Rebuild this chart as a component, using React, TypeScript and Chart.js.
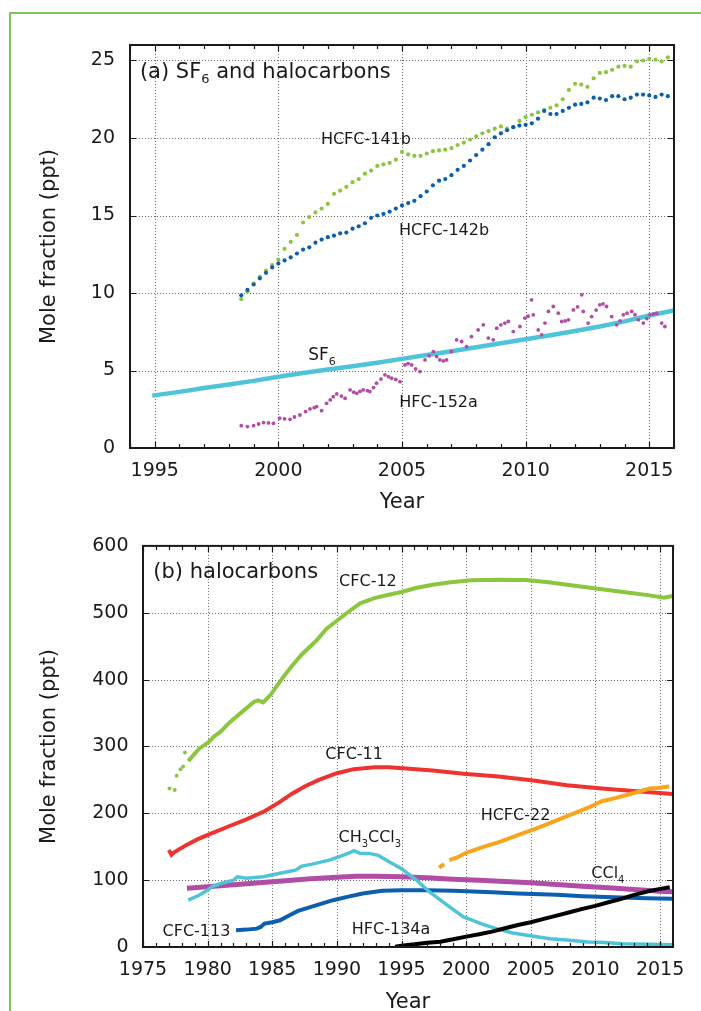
import React, { useEffect, useRef } from "react";
import { Chart, registerables } from "chart.js";

Chart.register(...registerables);

const FONT = "'DejaVu Sans', 'Liberation Sans', sans-serif";
const INK = "#1a1a1a";
const GRID = "#6a6a6a";
const FRAME_GREEN = "#7fc45c";

const GREEN = "#8cc63f";
const BLUE = "#0b5fae";
const CYAN = "#4fc4d9";
const MAGENTA = "#b24da6";
const RED = "#ee3431";
const ORANGE = "#f8a51d";
const BLACK = "#000000";

// ---------- Panel (a): SF6 and halocarbons ----------
const A_YEAR_TICKS = [1994, 1995, 1996, 1997, 1998, 1999, 2000, 2001, 2002, 2003, 2004, 2005, 2006, 2007, 2008, 2009, 2010, 2011, 2012, 2013, 2014, 2015, 2016];
const A_YEAR_LABELS = [1995, 2000, 2005, 2010, 2015];
const A_VALUE_TICKS = [0, 5, 10, 15, 20, 25];
const A_VALUE_GRID = [5, 10, 15, 20, 25];

// quarterly samples starting 1998.5
const HCFC141B_START = 1998.5;
const HCFC141B = [9.6, 10.1, 10.6, 11.05, 11.45, 11.8, 12.15, 12.85, 13.3, 13.75, 14.55, 14.9, 15.2, 15.45, 15.75, 16.4, 16.6, 16.85, 17.15, 17.35, 17.7, 17.9, 18.2, 18.3, 18.4, 18.6, 19.1, 18.95, 18.85, 18.85, 19.0, 19.15, 19.2, 19.25, 19.35, 19.55, 19.7, 19.9, 20.1, 20.3, 20.45, 20.6, 20.75, 20.6, 20.7, 21.1, 21.35, 21.5, 21.65, 21.8, 21.95, 22.1, 22.5, 23.1, 23.5, 23.45, 23.3, 23.85, 24.2, 24.25, 24.4, 24.6, 24.65, 24.6, 24.95, 25.0, 25.1, 25.05, 24.95, 25.2];

const HCFC142B_START = 1998.5;
const HCFC142B = [9.85, 10.2, 10.55, 10.95, 11.3, 11.65, 11.9, 12.1, 12.3, 12.55, 12.8, 12.95, 13.25, 13.45, 13.6, 13.7, 13.85, 13.9, 14.15, 14.3, 14.5, 14.85, 15.0, 15.1, 15.25, 15.45, 15.65, 15.8, 15.95, 16.25, 16.55, 16.95, 17.25, 17.35, 17.6, 17.95, 18.2, 18.55, 18.9, 19.25, 19.6, 20.05, 20.3, 20.5, 20.7, 20.8, 20.85, 20.95, 21.25, 21.75, 21.55, 21.55, 21.75, 21.95, 22.15, 22.2, 22.3, 22.6, 22.55, 22.45, 22.7, 22.7, 22.5, 22.6, 22.8, 22.8, 22.75, 22.65, 22.8, 22.7];

const SF6_YEARS = [1994.9, 1996, 1997, 1998, 1999, 2000, 2001, 2002, 2003, 2004, 2005, 2006, 2007, 2008, 2009, 2010, 2011, 2012, 2013, 2014, 2015, 2016];
const SF6 = [3.38, 3.62, 3.87, 4.1, 4.33, 4.6, 4.84, 5.06, 5.28, 5.5, 5.75, 6.0, 6.24, 6.5, 6.76, 7.02, 7.28, 7.55, 7.84, 8.17, 8.55, 8.88];

const HFC152A_YEARS = [1998.5, 1998.75, 1999.0, 1999.2, 1999.4, 1999.6, 1999.8, 2000.05, 2000.25, 2000.47, 2000.65, 2000.87, 2001.1, 2001.28, 2001.45, 2001.55, 2001.75, 2001.95, 2002.1, 2002.22, 2002.36, 2002.55, 2002.7, 2002.9, 2003.05, 2003.17, 2003.3, 2003.43, 2003.6, 2003.7, 2003.85, 2003.97, 2004.15, 2004.31, 2004.45, 2004.58, 2004.75, 2004.92, 2005.12, 2005.25, 2005.39, 2005.55, 2005.73, 2005.93, 2006.1, 2006.27, 2006.4, 2006.53, 2006.67, 2006.8, 2007.0, 2007.21, 2007.41, 2007.61, 2007.81, 2008.08, 2008.29, 2008.49, 2008.69, 2008.83, 2009.0, 2009.16, 2009.3, 2009.5, 2009.77, 2009.97, 2010.1, 2010.24, 2010.31, 2010.51, 2010.65, 2010.78, 2010.92, 2011.12, 2011.32, 2011.46, 2011.6, 2011.73, 2011.93, 2012.1, 2012.27, 2012.33, 2012.53, 2012.67, 2012.85, 2013.0, 2013.13, 2013.27, 2013.48, 2013.68, 2013.82, 2013.95, 2014.1, 2014.29, 2014.42, 2014.56, 2014.76, 2014.9, 2015.03, 2015.17, 2015.3, 2015.5, 2015.63];
const HFC152A = [1.44, 1.38, 1.44, 1.55, 1.64, 1.62, 1.59, 1.92, 1.88, 1.85, 2.0, 2.13, 2.35, 2.52, 2.6, 2.67, 2.41, 2.88, 3.1, 3.31, 3.49, 3.35, 3.21, 3.75, 3.6, 3.53, 3.65, 3.75, 3.7, 3.64, 3.9, 4.18, 4.45, 4.72, 4.6, 4.5, 4.42, 4.28, 5.36, 5.45, 5.36, 5.1, 4.93, 5.68, 5.95, 6.22, 5.9, 5.68, 5.62, 5.68, 6.22, 6.98, 6.87, 6.54, 7.19, 7.62, 7.95, 7.09, 6.98, 7.73, 7.95, 8.06, 8.16, 7.51, 7.84, 8.38, 8.5, 9.56, 8.59, 7.62, 7.3, 8.06, 8.81, 9.13, 8.7, 8.16, 8.2, 8.27, 8.91, 9.1, 9.88, 8.81, 8.06, 8.48, 8.9, 9.24, 9.3, 9.13, 8.48, 7.95, 8.2, 8.59, 8.7, 8.81, 8.6, 8.27, 8.06, 8.35, 8.59, 8.65, 8.7, 8.06, 7.84];

// ---------- Panel (b): halocarbons ----------
const B_YEAR_TICKS = [1975, 1976, 1977, 1978, 1979, 1980, 1981, 1982, 1983, 1984, 1985, 1986, 1987, 1988, 1989, 1990, 1991, 1992, 1993, 1994, 1995, 1996, 1997, 1998, 1999, 2000, 2001, 2002, 2003, 2004, 2005, 2006, 2007, 2008, 2009, 2010, 2011, 2012, 2013, 2014, 2015, 2016];
const B_YEAR_LABELS = [1975, 1980, 1985, 1990, 1995, 2000, 2005, 2010, 2015];
const B_YEAR_GRID = [1980, 1985, 1990, 1995, 2000, 2005, 2010, 2015];
const B_VALUE_TICKS = [0, 100, 200, 300, 400, 500, 600];
const B_VALUE_GRID = [100, 200, 300, 400, 500];

const CFC12_YEARS = [1977.05, 1977.45, 1977.6, 1977.9, 1978.1, 1978.25, 1978.5, 1979.3, 1980.1, 1980.5, 1981.0, 1981.7, 1982.8, 1983.6, 1983.9, 1984.3, 1984.9, 1985.7, 1986.5, 1987.3, 1988.4, 1989.2, 1990.0, 1991.0, 1991.8, 1992.9, 1994.0, 1995.0, 1996.1, 1997.4, 1998.8, 2000.4, 2002.5, 2004.6, 2006.2, 2008.4, 2010.5, 2012.6, 2014.2, 2015.3, 2015.95];
const CFC12 = [237, 235, 256, 266, 270, 291, 278, 296, 307, 315, 322, 336, 354, 367, 369, 366, 378, 400, 420, 438, 458, 476, 488, 503, 514, 522, 527, 531, 537, 542, 545.5, 548.5, 549.5, 549, 546, 540.5, 535, 530, 526, 522.5, 525];
const CFC12_SPARSE_BEFORE = 1978.45;

const CFC11_YEARS = [1977.0, 1977.2, 1977.35, 1978.3, 1979.2, 1980.3, 1981.7, 1983.0, 1984.4, 1985.5, 1986.5, 1987.5, 1988.6, 1990.0, 1991.3, 1992.9, 1994.0, 1995.6, 1997.4, 1999.8, 2002.5, 2005.2, 2007.8, 2010.5, 2013.2, 2016.0];
const CFC11 = [145, 138, 141, 152, 161, 170, 181, 191, 203, 216, 229, 240, 250, 260, 266, 269, 269, 266.5, 264, 259, 255, 249, 242, 237, 233, 229];

const CH3CCL3_YEARS = [1978.5, 1979.3, 1980.0, 1980.3, 1981.0, 1982.0, 1982.3, 1983.0, 1984.3, 1985.5, 1986.8, 1987.3, 1988.1, 1989.4, 1990.3, 1991.0, 1991.3, 1991.8, 1992.5, 1993.2, 1994.0, 1995.0, 1996.1, 1997.2, 1998.5, 1999.8, 2001.4, 2002.6, 2003.6, 2005.2, 2006.5, 2007.8, 2009.4, 2010.4, 2012.1, 2014.2, 2016.0];
const CH3CCL3 = [70, 77, 85, 90, 95, 100, 105, 103, 105, 110, 115, 121, 124, 130, 136, 141, 144, 140, 140, 137, 128, 117, 101, 82, 63, 45, 33, 26, 21, 16, 12.5, 10.5, 7.5, 7, 5, 4, 3.5];

const CCL4_YEARS = [1978.4, 1980, 1982, 1984, 1986, 1988, 1990, 1991.5, 1993, 1995, 1997, 1999, 2001, 2003, 2005, 2007, 2009, 2011, 2013, 2015, 2016];
const CCL4 = [88, 90, 93, 96, 99, 102, 104.5, 106, 106, 105, 103.5, 101.5, 100, 98, 96, 93.5, 91, 88.5, 86, 83.5, 82.5];

const CFC113_YEARS = [1982.2, 1983.0, 1983.8, 1984.1, 1984.4, 1985.0, 1985.6, 1986.3, 1987.0, 1988.5, 1989.7, 1990.8, 1992.0, 1993.5, 1995.0, 1997.0, 1999.0, 2002.0, 2004.0, 2007.0, 2009.0, 2012.0, 2014.0, 2016.0];
const CFC113 = [25, 26, 27.5, 30, 35, 37, 40, 47, 54, 63, 70, 75, 80, 84, 85, 85, 84, 82, 80, 78, 76, 74, 73, 72];

const HCFC22_YEARS = [1997.9, 1998.3, 1998.5, 1998.7, 1999.3, 2000.0, 2001.4, 2002.7, 2004.1, 2005.4, 2006.8, 2008.1, 2009.4, 2010.5, 2011.6, 2012.9, 2014.2, 2014.8, 2015.7];
const HCFC22 = [119, 124, null, 130, 134, 141, 150, 158, 168, 177, 188, 198, 208, 218, 223, 230, 237, 238, 240];

const HFC134A_YEARS = [1994.5, 1995, 1996, 1997, 1998, 1999, 2000, 2001, 2002, 2003, 2004, 2005, 2006, 2007, 2008, 2009, 2010, 2011, 2012, 2013, 2014, 2015, 2015.75];
const HFC134A = [0.5, 2, 4, 6.5, 8, 11.5, 15.5, 19, 23, 28, 33, 37, 42, 47, 52, 57, 61.5, 67, 72, 78, 83, 87, 89.5];

// ---------- helpers ----------
const zip = (xs: number[], ys: (number | null)[]) => xs.map((x, i) => ({ x, y: ys[i] }));
const quarterly = (start: number, ys: number[]) => ys.map((y, i) => ({ x: start + i * 0.25, y }));

const dots = (data: any[], color: string, r = 2) => ({
  data,
  showLine: false,
  pointRadius: r,
  pointBorderWidth: 0,
  pointBackgroundColor: color,
  pointBorderColor: color,
});

const line = (data: any[], color: string, width: number) => ({
  data,
  showLine: true,
  borderColor: color,
  borderWidth: width,
  pointRadius: 0,
  tension: 0,
  spanGaps: false,
});

type Part = { t: string; sub?: boolean };
type Tag = { x: number; y: number; size: number; parts: Part[] };

type PanelSpec = {
  height: number;
  padTop: number;
  padRight: number;
  xMin: number;
  xMax: number;
  yMin: number;
  yMax: number;
  xTicks: number[];
  xLabels: number[];
  xGrid: number[];
  yTicks: number[];
  yGrid: number[];
  yAxisWidth: number;
  xAxisHeight: number;
  yTickPad: number;
  xTickPad: number;
  xTitlePad: number;
  yTitlePad: number;
  tags: Tag[];
  datasets: any[];
};

// dotted grid underneath, inward tick marks and a solid box on top
function makeFrame(spec: PanelSpec) {
  return {
    id: "frame",
    beforeDatasetsDraw(chart: any) {
      const { ctx, chartArea: a } = chart;
      const sx = chart.scales.x;
      const sy = chart.scales.y;
      ctx.save();
      ctx.strokeStyle = GRID;
      ctx.lineWidth = 1;
      ctx.setLineDash([1, 2]);
      ctx.beginPath();
      for (const v of spec.xGrid) {
        const px = Math.round(sx.getPixelForValue(v)) + 0.5;
        ctx.moveTo(px, a.top);
        ctx.lineTo(px, a.bottom);
      }
      for (const v of spec.yGrid) {
        const py = Math.round(sy.getPixelForValue(v)) + 0.5;
        ctx.moveTo(a.left, py);
        ctx.lineTo(a.right, py);
      }
      ctx.stroke();
      ctx.restore();
    },
    afterDatasetsDraw(chart: any) {
      const { ctx, chartArea: a } = chart;
      const sx = chart.scales.x;
      const sy = chart.scales.y;
      ctx.save();
      ctx.setLineDash([]);
      ctx.strokeStyle = INK;
      ctx.lineWidth = 1.2;
      ctx.beginPath();
      for (const v of spec.xTicks) {
        const len = spec.xLabels.includes(v) ? 6 : 4;
        const px = Math.round(sx.getPixelForValue(v)) + 0.5;
        ctx.moveTo(px, a.top);
        ctx.lineTo(px, a.top + len);
        ctx.moveTo(px, a.bottom);
        ctx.lineTo(px, a.bottom - len);
      }
      for (const v of spec.yGrid) {
        const py = Math.round(sy.getPixelForValue(v)) + 0.5;
        ctx.moveTo(a.left, py);
        ctx.lineTo(a.left + 6, py);
        ctx.moveTo(a.right, py);
        ctx.lineTo(a.right - 6, py);
      }
      ctx.stroke();
      ctx.lineWidth = 2;
      ctx.strokeRect(a.left, a.top, a.right - a.left, a.bottom - a.top);
      ctx.restore();
    },
  };
}

// series names and panel headings, placed in data coordinates
function makeTags(spec: PanelSpec) {
  return {
    id: "tags",
    afterDatasetsDraw(chart: any) {
      const { ctx } = chart;
      const sx = chart.scales.x;
      const sy = chart.scales.y;
      ctx.save();
      ctx.fillStyle = INK;
      ctx.textAlign = "left";
      ctx.textBaseline = "alphabetic";
      for (const tag of spec.tags) {
        let px = sx.getPixelForValue(tag.x);
        const py = sy.getPixelForValue(tag.y);
        const subSize = Math.round(tag.size * 0.62);
        for (const part of tag.parts) {
          ctx.font = `${part.sub ? subSize : tag.size}px ${FONT}`;
          ctx.fillText(part.t, px, py + (part.sub ? 5 : 0));
          px += ctx.measureText(part.t).width;
        }
      }
      ctx.restore();
    },
  };
}

function buildConfig(spec: PanelSpec): any {
  return {
    type: "scatter",
    data: { datasets: spec.datasets },
    options: {
      responsive: false,
      animation: false,
      devicePixelRatio: 1,
      events: [],
      layout: { padding: { top: spec.padTop, right: spec.padRight, left: 0, bottom: 0 } },
      plugins: { legend: { display: false }, tooltip: { enabled: false } },
      scales: {
        x: {
          type: "linear",
          position: "bottom",
          min: spec.xMin,
          max: spec.xMax,
          afterBuildTicks: (s: any) => {
            s.ticks = spec.xTicks.map((v) => ({ value: v }));
          },
          afterFit: (s: any) => {
            s.height = spec.xAxisHeight;
          },
          grid: { display: false, drawTicks: false },
          border: { display: false },
          ticks: {
            autoSkip: false,
            maxRotation: 0,
            padding: spec.xTickPad,
            color: INK,
            font: { family: FONT, size: 19 },
            callback: (v: number) => (spec.xLabels.includes(v) ? String(v) : ""),
          },
          title: {
            display: true,
            text: "Year",
            color: INK,
            font: { family: FONT, size: 21 },
            padding: { top: 0, bottom: spec.xTitlePad },
          },
        },
        y: {
          type: "linear",
          min: spec.yMin,
          max: spec.yMax,
          afterBuildTicks: (s: any) => {
            s.ticks = spec.yTicks.map((v) => ({ value: v }));
          },
          afterFit: (s: any) => {
            s.width = spec.yAxisWidth;
          },
          grid: { display: false, drawTicks: false },
          border: { display: false },
          ticks: {
            padding: spec.yTickPad,
            color: INK,
            font: { family: FONT, size: 19 },
            callback: (v: number) => String(v),
          },
          title: {
            display: true,
            text: "Mole fraction (ppt)",
            color: INK,
            font: { family: FONT, size: 21 },
            padding: { top: spec.yTitlePad, bottom: 0 },
          },
        },
      },
    },
    plugins: [makeFrame(spec), makeTags(spec)],
  };
}

const PANEL_A: PanelSpec = {
  height: 520,
  padTop: 45,
  padRight: 27,
  xMin: 1994,
  xMax: 2016,
  yMin: 0,
  yMax: 26,
  xTicks: A_YEAR_TICKS,
  xLabels: A_YEAR_LABELS,
  xGrid: A_YEAR_LABELS,
  yTicks: A_VALUE_TICKS,
  yGrid: A_VALUE_GRID,
  yAxisWidth: 130,
  xAxisHeight: 72,
  yTickPad: 15,
  xTickPad: 12,
  xTitlePad: 4.5,
  yTitlePad: 37,
  tags: [
    { x: 1994.4, y: 23.9, size: 21, parts: [{ t: "(a) SF" }, { t: "6", sub: true }, { t: " and halocarbons" }] },
    { x: 2001.72, y: 19.62, size: 16, parts: [{ t: "HCFC-141b" }] },
    { x: 2004.88, y: 13.76, size: 16, parts: [{ t: "HCFC-142b" }] },
    { x: 2001.21, y: 5.68, size: 17, parts: [{ t: "SF" }, { t: "6", sub: true }] },
    { x: 2004.89, y: 2.67, size: 16, parts: [{ t: "HFC-152a" }] },
  ],
  datasets: [
    dots(zip(HFC152A_YEARS, HFC152A), MAGENTA, 1.9),
    dots(quarterly(HCFC142B_START, HCFC142B), BLUE, 2.1),
    dots(quarterly(HCFC141B_START, HCFC141B), GREEN, 2.1),
    line(zip(SF6_YEARS, SF6), CYAN, 4.5),
  ],
};

const cfc12 = {
  ...line(zip(CFC12_YEARS, CFC12), GREEN, 4),
  pointRadius: (c: any) => (c.raw && c.raw.x < CFC12_SPARSE_BEFORE ? 2 : 0),
  pointBorderWidth: 0,
  pointBackgroundColor: GREEN,
  segment: {
    borderColor: (c: any) => (c.p0.parsed.x < CFC12_SPARSE_BEFORE ? "rgba(0,0,0,0)" : GREEN),
  },
};

const PANEL_B: PanelSpec = {
  height: 520,
  padTop: 25,
  padRight: 28,
  xMin: 1975,
  xMax: 2016,
  yMin: 0,
  yMax: 600,
  xTicks: B_YEAR_TICKS,
  xLabels: B_YEAR_LABELS,
  xGrid: B_YEAR_GRID,
  yTicks: B_VALUE_TICKS,
  yGrid: B_VALUE_GRID,
  yAxisWidth: 143,
  xAxisHeight: 93,
  yTickPad: 14.5,
  xTickPad: 12,
  xTitlePad: 24.4,
  yTitlePad: 36.5,
  tags: [
    { x: 1975.8, y: 552.7, size: 21, parts: [{ t: "(b) halocarbons" }] },
    { x: 1990.17, y: 540.3, size: 16, parts: [{ t: "CFC-12" }] },
    { x: 1989.1, y: 280.6, size: 16, parts: [{ t: "CFC-11" }] },
    { x: 2001.12, y: 190.6, size: 16, parts: [{ t: "HCFC-22" }] },
    { x: 1990.12, y: 157.2, size: 16, parts: [{ t: "CH" }, { t: "3", sub: true }, { t: "CCl" }, { t: "3", sub: true }] },
    { x: 2009.68, y: 102.5, size: 16, parts: [{ t: "CCl" }, { t: "4", sub: true }] },
    { x: 1976.51, y: 16.9, size: 16, parts: [{ t: "CFC-113" }] },
    { x: 1991.15, y: 19.4, size: 16, parts: [{ t: "HFC-134a" }] },
  ],
  datasets: [
    line(zip(HFC134A_YEARS, HFC134A), BLACK, 4),
    line(zip(CH3CCL3_YEARS, CH3CCL3), CYAN, 3.5),
    line(zip(HCFC22_YEARS, HCFC22), ORANGE, 4),
    line(zip(CFC11_YEARS, CFC11), RED, 4),
    cfc12,
    line(zip(CCL4_YEARS, CCL4), MAGENTA, 5),
    line(zip(CFC113_YEARS, CFC113), BLUE, 4),
  ],
};

function Panel({ spec, top }: { spec: PanelSpec; top: number }) {
  const ref = useRef<HTMLCanvasElement>(null);
  useEffect(() => {
    if (!ref.current) return;
    const chart = new Chart(ref.current, buildConfig(spec));
    return () => chart.destroy();
  }, [spec]);
  return (
    <canvas
      ref={ref}
      width={701}
      height={spec.height}
      style={{ position: "absolute", left: 0, top, width: 701, height: spec.height }}
    />
  );
}

export default function App() {
  return (
    <div
      style={{
        position: "absolute",
        left: 0,
        top: 0,
        width: 701,
        height: 1011,
        overflow: "hidden",
        background: "#ffffff",
      }}
    >
      <div
        style={{
          position: "absolute",
          left: 9,
          top: 12,
          right: 0,
          bottom: 0,
          borderTop: `2px solid ${FRAME_GREEN}`,
          borderLeft: `2px solid ${FRAME_GREEN}`,
        }}
      />
      <Panel spec={PANEL_A} top={0} />
      <Panel spec={PANEL_B} top={520} />
    </div>
  );
}
